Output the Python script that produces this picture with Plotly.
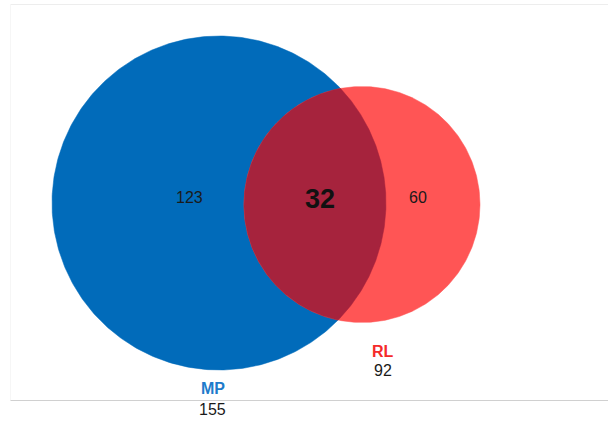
import numpy as np
import plotly.graph_objects as go

# ---- data ----
set_names = ["MP", "RL"]
set_totals = [155, 92]
exclusive_counts = [123, 60]
overlap_count = 32

# ---- layout/geometry (pixel-like coordinates) ----
W, H = 608, 421
centers = [(219.0, 203.0), (362.0, 204.5)]
radii = [167.0, 118.0]
fill_colors = ["#016BBA", "#FF5555"]
overlap_color = "#A6233D"
label_colors = ["#1E7BCB", "#F52A2A"]
FONT = "Liberation Sans, Arial, sans-serif"

fig = go.Figure()

def circle_pts(c, r, t0=0, t1=2 * np.pi, n=400):
    t = np.linspace(t0, t1, n)
    return c[0] + r * np.cos(t), c[1] + r * np.sin(t)

for c, r, col in zip(centers, radii, fill_colors):
    x, y = circle_pts(c, r)
    fig.add_trace(go.Scatter(x=x, y=y, mode="lines", fill="toself",
                             fillcolor=col, line=dict(color=col, width=0.5),
                             hoverinfo="skip", showlegend=False))

# lens (overlap)
(c1x, c1y), (c2x, c2y) = centers
r1, r2 = radii
dx, dy = c2x - c1x, c2y - c1y
d = np.hypot(dx, dy)
a = (r1 ** 2 - r2 ** 2 + d ** 2) / (2 * d)
th0 = np.arctan2(dy, dx)
al = np.arccos(a / r1)
be = np.arccos((d - a) / r2)
xb, yb = circle_pts(centers[0], r1, th0 - al, th0 + al, 300)
xr, yr = circle_pts(centers[1], r2, th0 + np.pi - be, th0 + np.pi + be, 300)
fig.add_trace(go.Scatter(x=np.concatenate([xb, xr]), y=np.concatenate([yb, yr]),
                         mode="lines", fill="toself", fillcolor=overlap_color,
                         line=dict(color=overlap_color, width=0.5),
                         hoverinfo="skip", showlegend=False))

ann = []
# region counts
ann.append(dict(x=189.5, y=197.5, text=str(exclusive_counts[0]),
                font=dict(size=16, color="#1a1a1a", family=FONT)))
ann.append(dict(x=320, y=198.5, text="<b>%d</b>" % overlap_count,
                font=dict(size=27, color="#111111", family=FONT)))
ann.append(dict(x=418, y=197.5, text=str(exclusive_counts[1]),
                font=dict(size=16, color="#1a1a1a", family=FONT)))
# set labels
label_pos = [(212.5, 388.5, 409), (382.5, 351.5, 370)]
for name, tot, col, (lx, ly1, ly2) in zip(set_names, set_totals, label_colors, label_pos):
    ann.append(dict(x=lx, y=ly1, text="<b>%s</b>" % name,
                    font=dict(size=16, color=col, family=FONT)))
    ann.append(dict(x=lx, y=ly2, text=str(tot),
                    font=dict(size=16, color="#1a1a1a", family=FONT)))
for an in ann:
    an.update(xref="x", yref="y", showarrow=False, xanchor="center", yanchor="middle")

shapes = [
    dict(type="line", xref="x", yref="y", x0=10.5, x1=W, y0=4.5, y1=4.5,
         line=dict(color="#EDEDED", width=1), layer="below"),
    dict(type="line", xref="x", yref="y", x0=10.5, x1=10.5, y0=4.5, y1=400.5,
         line=dict(color="#F6F6F6", width=1), layer="below"),
    dict(type="line", xref="x", yref="y", x0=10.5, x1=W, y0=400.5, y1=400.5,
         line=dict(color="#D0D0D0", width=1), layer="below"),
]

fig.update_layout(
    width=W, height=H, margin=dict(l=0, r=0, t=0, b=0),
    paper_bgcolor="white", plot_bgcolor="white",
    xaxis=dict(range=[0, W], visible=False, fixedrange=True),
    yaxis=dict(range=[H, 0], visible=False, fixedrange=True),
    annotations=ann, shapes=shapes, showlegend=False,
)
fig.write_html(
    "out.html",
    config={"displayModeBar": False, "staticPlot": True},
    post_script="document.body.style.margin='0';document.body.style.padding='0';"
                "document.body.style.overflow='hidden';",
)
